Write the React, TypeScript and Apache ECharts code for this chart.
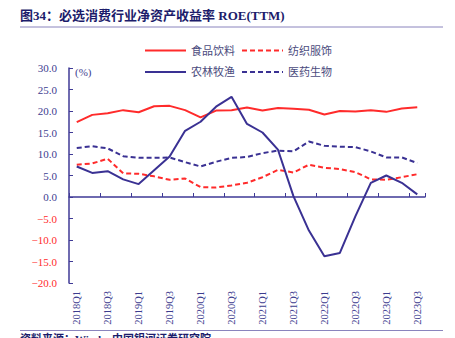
import React, { useEffect, useRef } from "react";
import * as echarts from "echarts";

const categories = [
  "2018Q1", "2018Q2", "2018Q3", "2018Q4",
  "2019Q1", "2019Q2", "2019Q3", "2019Q4",
  "2020Q1", "2020Q2", "2020Q3", "2020Q4",
  "2021Q1", "2021Q2", "2021Q3", "2021Q4",
  "2022Q1", "2022Q2", "2022Q3", "2022Q4",
  "2023Q1", "2023Q2", "2023Q3",
];
const food = [17.4, 19.1, 19.5, 20.2, 19.7, 21.1, 21.2, 20.2, 18.5, 20.1, 20.2, 20.8, 20.1, 20.7, 20.5, 20.3, 19.2, 20.0, 19.9, 20.2, 19.8, 20.6, 20.9];
const textile = [7.5, 7.8, 8.9, 5.5, 5.4, 4.8, 4.0, 4.3, 2.3, 2.2, 2.7, 3.3, 4.6, 6.3, 5.7, 7.5, 6.8, 6.5, 5.8, 4.1, 4.0, 4.6, 5.3];
const agri = [7.1, 5.6, 6.0, 4.1, 3.0, 6.2, 9.4, 15.4, 17.5, 21.0, 23.3, 17.0, 15.0, 11.0, 0.2, -7.8, -13.8, -13.0, -4.5, 3.3, 5.0, 3.3, 0.6];
const pharma = [11.4, 11.8, 11.3, 9.5, 9.1, 9.1, 9.2, 8.1, 7.1, 8.2, 9.1, 9.3, 10.2, 10.8, 10.6, 12.9, 11.9, 11.7, 11.6, 10.6, 9.2, 9.2, 7.9];

const RED = "#ff2b2b";
const NAVY = "#3a3193";
const AXIS = "#3f3a96";
const LABEL = "#3d3d8f";
const FONT = "'Liberation Serif', 'Noto Sans CJK SC', serif";

export default function App() {
  const ref = useRef<HTMLDivElement>(null);
  useEffect(() => {
    if (!ref.current) return;
    const chart = echarts.init(ref.current, undefined, { renderer: "svg" });
    const legendText = { color: "#4b4b7d", fontSize: 11, fontFamily: FONT };
    const legendCommon = {
      left: 144,
      itemWidth: 41,
      itemHeight: 11,
      itemGap: 6,
      textStyle: legendText,
      padding: 0,
      itemStyle: { opacity: 0 },
    };
    chart.setOption({
      animation: false,
      backgroundColor: "#ffffff",
      grid: { left: 69, right: 30, top: 68, bottom: 55 },
      legend: [
        { ...legendCommon, data: ["食品饮料", "纺织服饰"], top: 45 },
        { ...legendCommon, data: ["农林牧渔", "医药生物"], top: 66.5 },
      ],
      xAxis: [
        {
          type: "category",
          data: categories,
          boundaryGap: true,
          position: "bottom",
          axisLine: { show: false, onZero: false },
          axisTick: { show: false },
          axisLabel: {
            interval: 1,
            rotate: 90,
            margin: 8,
            color: LABEL,
            fontSize: 10.5,
            fontFamily: FONT,
          },
        },
        {
          type: "category",
          data: categories,
          boundaryGap: true,
          position: "bottom",
          axisLine: { show: true, onZero: true, lineStyle: { color: AXIS, width: 1.5 } },
          axisTick: { show: true, inside: true, interval: 1, length: 4, lineStyle: { color: AXIS, width: 1 } },
          axisLabel: { show: false },
        },
      ],
      yAxis: {
        type: "value",
        min: -20,
        max: 30,
        interval: 5,
        splitLine: { show: false },
        axisLine: { show: true, lineStyle: { color: AXIS, width: 1.5 } },
        axisTick: { show: true, inside: true, length: 4, lineStyle: { color: AXIS, width: 1 } },
        axisLabel: {
          margin: 12,
          fontSize: 11,
          fontFamily: FONT,
          color: (v: any) => (Number(v) < 0 ? RED : LABEL),
          formatter: (v: number) => (v < 0 ? "\u2212" + Math.abs(v).toFixed(1) : v.toFixed(1)),
        },
      },
      series: [
        {
          name: "食品饮料",
          type: "line",
          data: food,
          symbol: "none",
          xAxisIndex: 0,
          lineStyle: { color: RED, width: 2 },
          itemStyle: { color: RED },
        },
        {
          name: "纺织服饰",
          type: "line",
          data: textile,
          symbol: "none",
          xAxisIndex: 0,
          lineStyle: { color: RED, width: 2, type: [5, 3] },
          itemStyle: { color: RED },
        },
        {
          name: "农林牧渔",
          type: "line",
          data: agri,
          symbol: "none",
          xAxisIndex: 0,
          lineStyle: { color: NAVY, width: 2 },
          itemStyle: { color: NAVY },
        },
        {
          name: "医药生物",
          type: "line",
          data: pharma,
          symbol: "none",
          xAxisIndex: 0,
          lineStyle: { color: NAVY, width: 2, type: [5, 3] },
          itemStyle: { color: NAVY },
        },
      ],
      graphic: [
        {
          type: "text",
          left: 20,
          top: 9,
          style: {
            text: "图34：必选消费行业净资产收益率 ROE(TTM)",
            fill: "#1c1c6b",
            font: "bold 13px " + FONT,
          },
        },
        {
          type: "line",
          shape: { x1: 20, y1: 27, x2: 443, y2: 27 },
          style: { stroke: "#8a84bd", lineWidth: 1 },
        },
        {
          type: "text",
          left: 75,
          top: 66,
          style: { text: "(%)", fill: LABEL, font: "11px " + FONT },
        },
        {
          type: "line",
          shape: { x1: 20, y1: 330.5, x2: 443, y2: 330.5 },
          style: { stroke: "#8a84bd", lineWidth: 1 },
        },
        {
          type: "text",
          left: 20,
          top: 333,
          style: {
            text: "资料来源：Wind，中国银河证券研究院",
            fill: "#1c1c6b",
            font: "bold 11px " + FONT,
          },
        },
      ],
    });
    return () => chart.dispose();
  }, []);
  return (
    <div
      ref={ref}
      style={{ position: "absolute", left: 0, top: 0, width: 455, height: 338 }}
    />
  );
}
